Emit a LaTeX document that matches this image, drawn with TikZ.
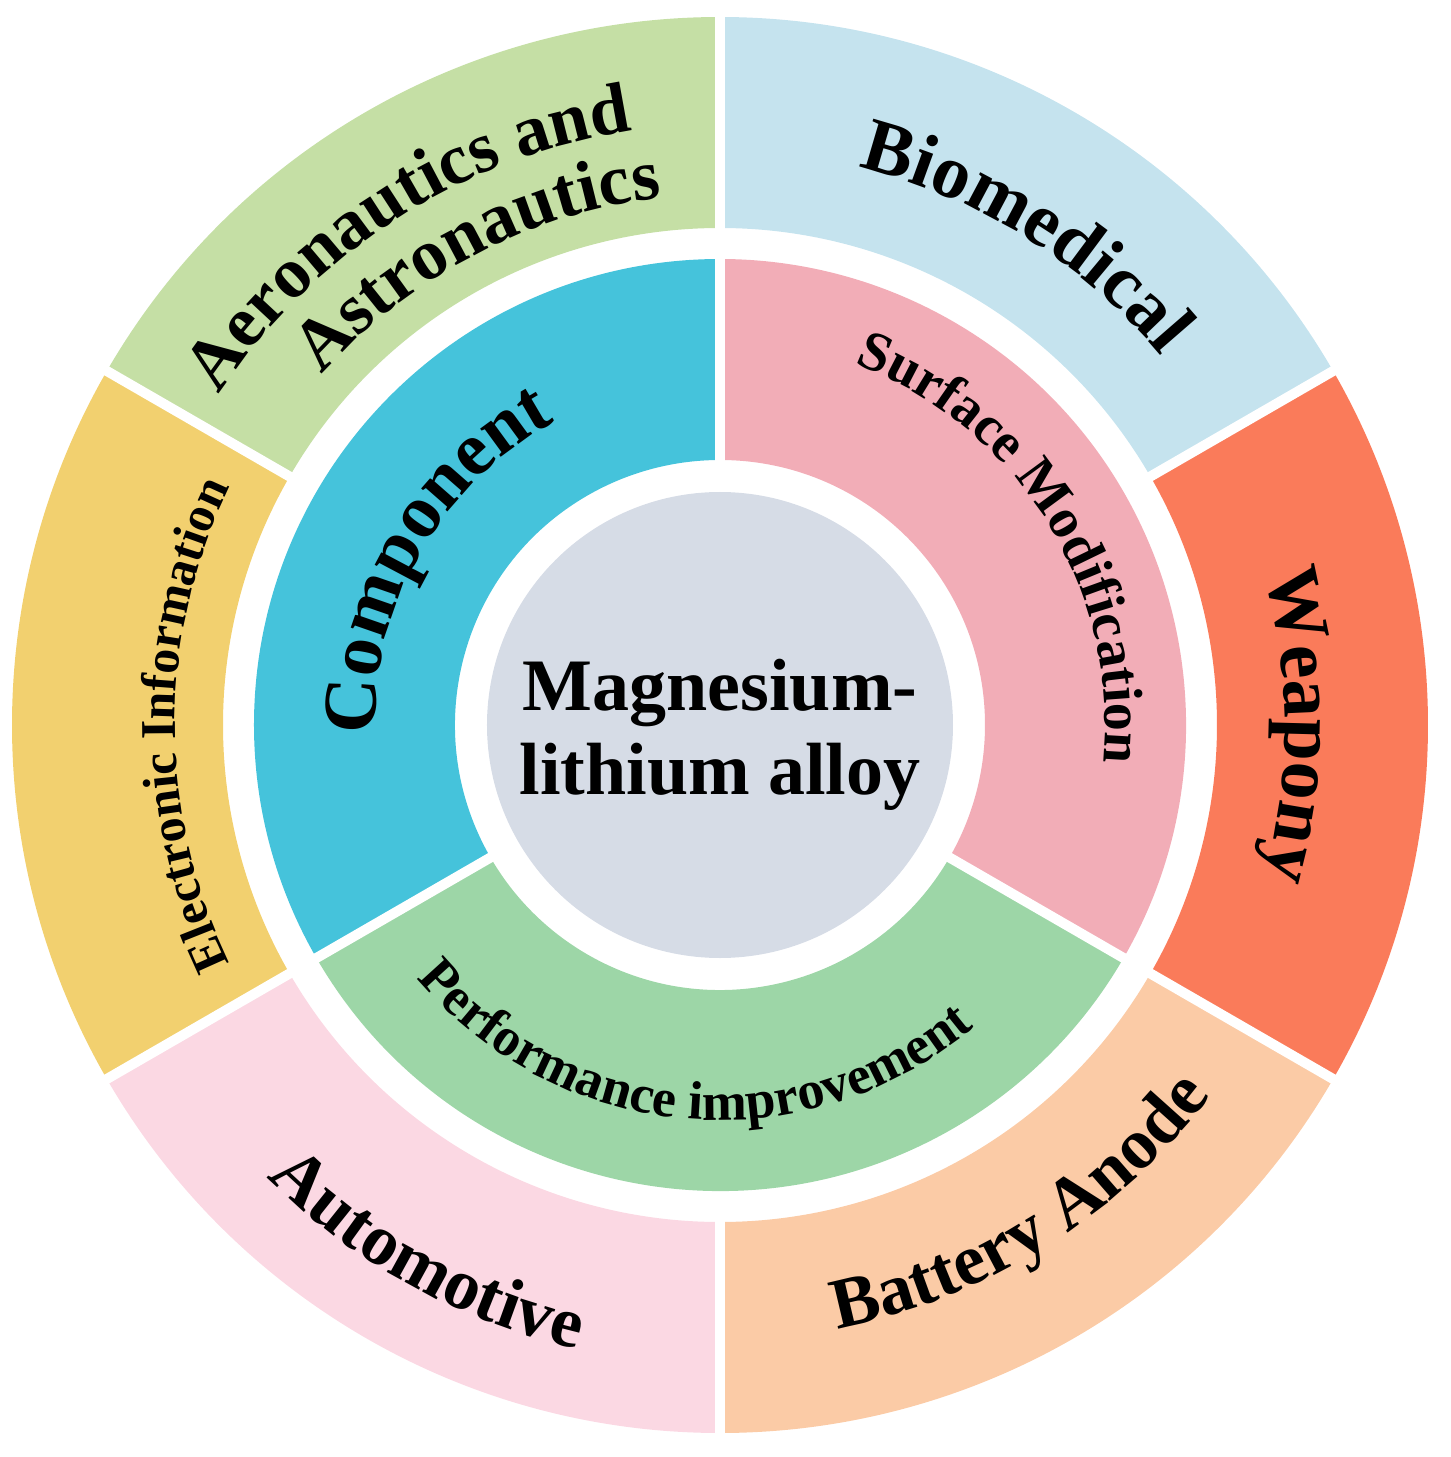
\documentclass[tikz,border=0pt]{standalone}
\usepackage{fontspec}
\setmainfont{Liberation Serif}
\usetikzlibrary{decorations.text}
\definecolor{aeroc}{HTML}{C5DFA5}
\definecolor{bioc}{HTML}{C5E3EE}
\definecolor{weapc}{HTML}{FA7B5A}
\definecolor{battc}{HTML}{FBCBA6}
\definecolor{autoc}{HTML}{FBD8E3}
\definecolor{elecc}{HTML}{F2D06F}
\definecolor{compc}{HTML}{45C3DB}
\definecolor{surfc}{HTML}{F2ADB7}
\definecolor{perfc}{HTML}{9DD6A7}
\definecolor{corec}{HTML}{D6DCE6}
\newcommand{\sect}[5]{\fill[#5] (#1:#3pt) arc[start angle=#1,end angle=#2,radius=#3pt] -- (#2:#4pt) arc[start angle=#2,end angle=#1,radius=#4pt] -- cycle;}
\newcommand{\ftxt}[5]{\path[decorate,decoration={text along path,text align=center,text={|\fontsize{#1}{#1}\selectfont\bfseries|#2}}] (#3:#5pt) arc[start angle=#3,end angle=#4,radius=#5pt];}
\begin{document}
\begin{tikzpicture}[x=1pt,y=1pt,gap/.style={white,line width=10pt}]
\useasboundingbox (-720,-732) rectangle (731,725);
% outer ring
\sect{30}{90}{708}{497}{bioc}
\sect{90}{150}{708}{497}{aeroc}
\sect{150}{210}{708}{497}{elecc}
\sect{210}{270}{708}{497}{autoc}
\sect{270}{330}{708}{497}{battc}
\sect{-30}{30}{708}{497}{weapc}
\foreach \a in {30,90,150,210,270,330} \draw[gap] (\a:490pt) -- (\a:715pt);
% middle ring
\sect{90}{210}{466}{265}{compc}
\sect{-30}{90}{466}{265}{surfc}
\sect{210}{330}{466}{265}{perfc}
\foreach \a in {90,210,330} \draw[gap] (\a:260pt) -- (\a:470pt);
% core
\node[circle,fill=corec,minimum size=466pt,inner sep=0pt] (core) at (0,0) {};
\node[align=center,font=\fontsize{74}{84}\selectfont\bfseries] (title) at (0,-10) {Magnesium-\\lithium alloy};
% labels
\ftxt{72}{Aeronautics and}{165}{80}{600}
\ftxt{72}{Astronautics}{155}{80}{530}
\ftxt{76}{Biomedical}{85}{31}{575}
\ftxt{76}{Weapony}{25}{-25}{565}
\ftxt{50}{Electronic Information}{212}{148}{545}
\ftxt{76}{Component}{185}{115}{345}
\ftxt{56}{Surface Modification}{90}{-26}{385}
\ftxt{54}{Performance improvement}{203}{327}{395}
\ftxt{72}{Automotive}{213}{269}{640}
\ftxt{72}{Battery Anode}{273}{331}{615}
\end{tikzpicture}
\end{document}
